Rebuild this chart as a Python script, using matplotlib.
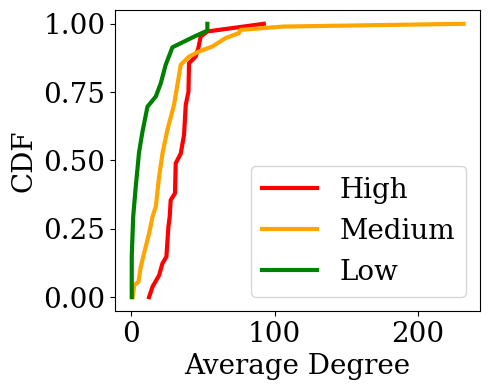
import matplotlib
matplotlib.use("Agg")
import matplotlib.pyplot as plt

high_x = [12.4, 14.8, 19.4, 21.7, 24.5, 25.9, 26.8, 27.5, 30.5, 31.0, 34.5, 36.8, 38.0, 39.9, 40.3, 44.9, 46.8, 48.4, 53.1, 92.5]
high_y = [0.0, 0.038, 0.08, 0.123, 0.148, 0.258, 0.294, 0.355, 0.38, 0.49, 0.525, 0.593, 0.703, 0.752, 0.856, 0.88, 0.911, 0.953, 0.972, 1.0]

medium_x = [1.0, 2.0, 5.0, 6.6, 8.9, 12.4, 14.8, 17.1, 19.4, 21.9, 25.2, 29.8, 32.2, 34.5, 40.3, 47.3, 56.6, 65.9, 75.1, 76.3, 106.5, 232.0]
medium_y = [0.0, 0.044, 0.056, 0.111, 0.16, 0.233, 0.294, 0.331, 0.441, 0.53, 0.612, 0.703, 0.777, 0.85, 0.88, 0.899, 0.917, 0.948, 0.966, 0.978, 0.990, 1.0]

low_x = [0.3, 0.3, 1.3, 3.1, 5.4, 7.8, 11.3, 17.1, 20.6, 24.0, 28.7, 43.8, 53.1, 53.1]
low_y = [0.0, 0.148, 0.294, 0.404, 0.53, 0.606, 0.697, 0.734, 0.783, 0.85, 0.914, 0.953, 0.975, 1.0]

plt.rcParams['font.family'] = 'DejaVu Serif'
fig = plt.figure(figsize=(4.9, 3.9), dpi=100)
ax = fig.add_axes([0.235, 0.203, 0.745, 0.771])
ax.plot(high_x, high_y, color='red', lw=3, label='High')
ax.plot(medium_x, medium_y, color='orange', lw=3, label='Medium')
ax.plot(low_x, low_y, color='green', lw=3, label='Low')
ax.set_xticks([0, 100, 200])
ax.set_yticks([0, 0.25, 0.5, 0.75, 1.0])
ax.tick_params(labelsize=20)
ax.set_xlabel('Average Degree', fontsize=20)
ax.set_ylabel('CDF', fontsize=20)
ax.legend(loc='lower right', fontsize=20)
fig.savefig('out.png', dpi=100)
